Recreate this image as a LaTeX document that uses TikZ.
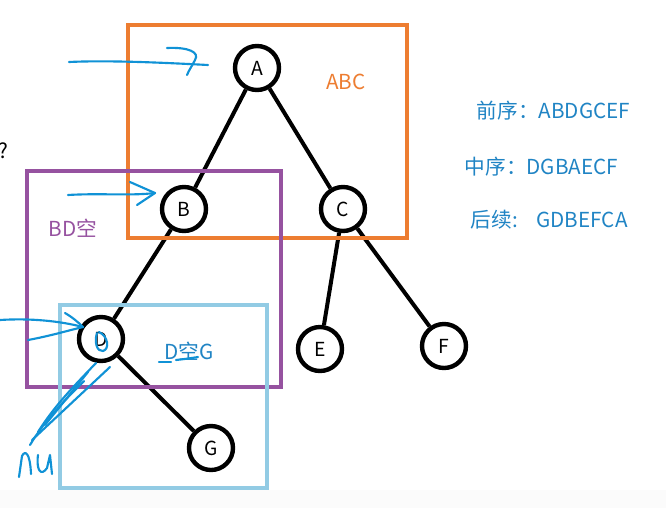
\documentclass[tikz,border=0pt]{standalone}
\usepackage{fontspec}
\setmainfont{Noto Sans CJK SC}
\definecolor{boxorange}{RGB}{237,125,49}
\definecolor{boxpurple}{RGB}{150,82,160}
\definecolor{boxblue}{RGB}{146,203,228}
\definecolor{textblue}{RGB}{32,132,196}
\definecolor{penblue}{RGB}{16,146,214}

\begin{document}
\begin{tikzpicture}[x=0.75pt,y=-0.75pt,
    vertex/.style={draw,circle,line width=3.3pt,minimum size=33pt,inner sep=0pt,fill=white,font=\fontsize{14.5}{16}\selectfont},
    edge/.style={line width=3pt},
    frame/.style={line width=3pt},
    pen/.style={penblue,line width=1.6pt,line cap=round,line join=round},
    note/.style={font=\fontsize{15.5}{18}\selectfont}]
    \useasboundingbox (0,0) rectangle (666,508); % keeps the margins
    \fill[black!1.5] (0,490) rectangle (666,508);

    % the tree
    \node[vertex] (A) at (257,68) {A};
    \node[vertex] (B) at (184,209) {B};
    \node[vertex] (C) at (343,209) {C};
    \node[vertex] (D) at (101,339) {D};
    \node[vertex] (E) at (320,349) {E};
    \node[vertex] (F) at (444,346) {F};
    \node[vertex] (G) at (211,448) {G};
    \draw[edge] (A) -- (B);
    \draw[edge] (A) -- (C);
    \draw[edge] (B) -- (D);
    \draw[edge] (D) -- (G);
    \draw[edge] (C) -- (E);
    \draw[edge] (C) -- (F);

    % the three boxes
    \draw[frame,boxorange] (128,25) rectangle (407,238);
    \draw[frame,boxpurple] (27,171) rectangle (281,387);
    \draw[frame,boxblue] (60,305) rectangle (267,488);
    \node[note,text=boxorange] (abc) at (346,82) {ABC};
    \node[note,text=boxpurple] (bdk) at (73,228) {BD空};
    \node[note,text=textblue] (dkg) at (189,351) {D空G};

    % the three orders
    \node[note,text=textblue,anchor=west] (pre) at (472,111) {前序：ABDGCEF};
    \node[note,text=textblue,anchor=west] (mid) at (460,167) {中序：DGBAECF};
    \node[note,text=textblue,anchor=west] (post) at (466,220) {后续:\hspace{14pt}GDBEFCA};
    \node[note] (q) at (3,151) {?};

    % pen strokes
    \coordinate (p1) at (69,62);
    \coordinate (p2) at (68,195);
    \coordinate (p3) at (0,320);
    \coordinate (p4) at (28,340);
    \draw[pen] (p1) .. controls (110,60) and (170,63) .. (208,65);
    \draw[pen] (167,48) .. controls (188,47) and (200,52) .. (195,60) .. controls (192,66) and (189,70) .. (187,75);
    \draw[pen] (p2) .. controls (100,193) and (130,196) .. (155,193);
    \draw[pen] (130,182) -- (155,193) -- (137,205);
    \draw[pen] (p3) .. controls (30,318) and (60,321) .. (83,327);
    \draw[pen] (p4) .. controls (50,336) and (70,330) .. (83,327);
    \draw[pen] (65,313) .. controls (72,317) and (78,322) .. (83,327);
    \draw[pen] (97,333) .. controls (94,342) and (97,352) .. (103,351) .. controls (110,349) and (108,336) .. (99,332);
    \draw[pen] (159,362) -- (171,362);
    \draw[pen] (176,360) .. controls (185,359) and (192,358) .. (198,357);
    \draw[pen] (110,367) -- (32,440);
    \draw[pen] (96,363) .. controls (75,385) and (55,405) .. (38,432);
    \draw[pen] (88,372) -- (45,425);
    \draw[pen] (84,381) .. controls (65,400) and (45,420) .. (30,445);
    \draw[pen] (19,477) -- (22,456) .. controls (25,450) and (30,452) .. (31,474);
    \draw[pen] (38,455) .. controls (36,470) and (41,477) .. (47,468) -- (50,455) -- (52,474);
\end{tikzpicture}
\end{document}
